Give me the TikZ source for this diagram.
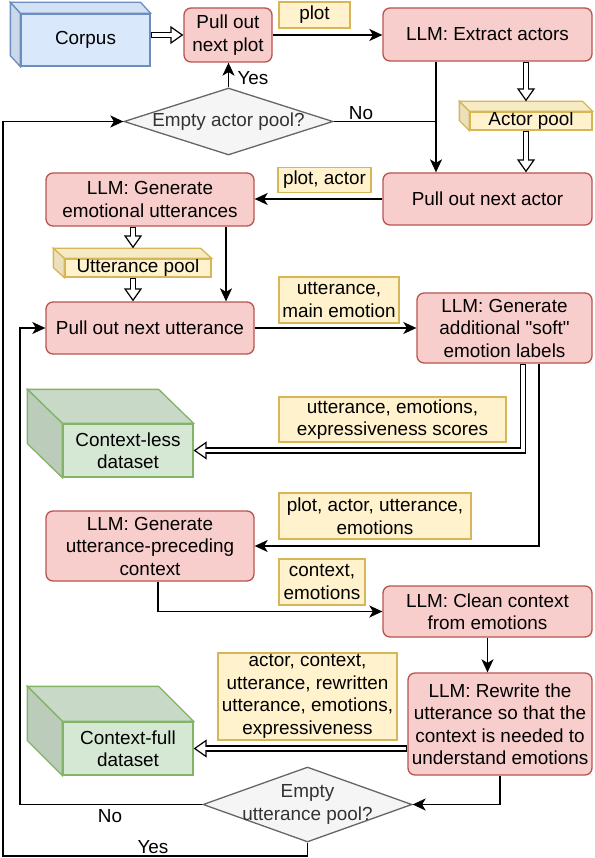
\documentclass[tikz,border=0pt]{standalone}
\usepackage{fontspec}
\setmainfont{Liberation Sans}[Ligatures=TeXOff]
\usetikzlibrary{arrows.meta,shapes.geometric,calc}
\definecolor{redF}{HTML}{F8CECC}
\definecolor{redS}{HTML}{B85450}
\definecolor{yelF}{HTML}{FFF2CC}
\definecolor{yelS}{HTML}{D6B656}
\definecolor{grnF}{HTML}{D5E8D4}
\definecolor{grnS}{HTML}{82B366}
\definecolor{bluF}{HTML}{DAE8FC}
\definecolor{bluS}{HTML}{6C8EBF}
\definecolor{grayF}{HTML}{F5F5F5}
\definecolor{grayS}{HTML}{666666}
\definecolor{grayT}{HTML}{333333}
\newcommand{\cubefaces}[7]{%
  \filldraw[draw=#5, fill=#4!#6!black, line width=1.3pt] (#1.north west) -- ([shift={(-#2,-#3)}]#1.north west) -- ([shift={(-#2,-#3)}]#1.north east) -- (#1.north east) -- cycle;
  \filldraw[draw=#5, fill=#4!#7!black, line width=1.3pt] (#1.north west) -- ([shift={(-#2,-#3)}]#1.north west) -- ([shift={(-#2,-#3)}]#1.south west) -- (#1.south west) -- cycle;
}
\begin{document}
\begin{tikzpicture}[x=1pt,y=-1pt,font=\fontsize{18.9pt}{22.5pt}\selectfont,
  proc/.style={draw=redS, fill=redF, rounded corners=7pt, line width=1.3pt, align=center, inner sep=0pt},
  lbl/.style={draw=yelS, fill=yelF, line width=1.3pt, align=center, inner sep=0pt},
  dec/.style={diamond, shape aspect=3.1, draw=grayS, fill=grayF, text=grayT, line width=1.3pt, align=center, inner xsep=-30pt, inner ysep=0pt},
  cubeB/.style={draw=bluS, fill=bluF, line width=1.3pt, inner sep=0pt, align=center},
  cubeG/.style={draw=grnS, fill=grnF, line width=1.3pt, inner sep=0pt, align=center},
  cubeY/.style={draw=yelS, fill=yelF, line width=1.3pt, inner sep=0pt, align=center},
  conn/.style={line width=1.5pt, -{Stealth[length=13pt,width=12pt,inset=3.5pt]}},
  plain/.style={line width=1.5pt},
  flex/.style={line width=6.4pt, -{Triangle[length=13pt,width=18pt,line width=1.2pt,fill=white]},
    postaction={draw=white, line width=3.8pt, -, shorten >=11.5pt, shorten <=1.2pt}},
  txt/.style={inner sep=0pt}]
\useasboundingbox (0,0) rectangle (594,858);

% nodes
\node[cubeB, minimum width=129pt, minimum height=52pt] (corpus) at (85.5,40) {Corpus};
\node[proc, minimum width=88pt, minimum height=54pt] (ppl) at (228,35) {Pull out\\next plot};
\node[lbl, minimum width=71pt, minimum height=26pt] (lplot) at (314.5,15) {plot};
\node[proc, minimum width=209pt, minimum height=53pt] (ext) at (487.5,34.5) {LLM: Extract actors};
\node[cubeY, minimum width=122pt, minimum height=18pt] (apool) at (531,121) {Actor pool};
\node[dec, minimum width=209pt, minimum height=67pt] (dap) at (228.5,121.5) {Empty actor pool?};
\node[proc, minimum width=209pt, minimum height=52pt] (pna) at (487.5,199) {Pull out next actor};
\node[lbl, minimum width=93pt, minimum height=25pt] (lpa) at (324.5,180) {plot, actor};
\node[proc, minimum width=208pt, minimum height=53pt] (geu) at (150,199.5) {LLM: Generate\\emotional utterances};
\node[cubeY, minimum width=146pt, minimum height=18pt] (upool) at (138,268) {Utterance pool};
\node[proc, minimum width=208pt, minimum height=52pt] (pnu) at (150,328) {Pull out next utterance};
\node[lbl, minimum width=120pt, minimum height=46pt] (lume) at (339,300) {utterance,\\main emotion};
\node[proc, minimum width=175pt, minimum height=70pt] (gas) at (504.5,328) {LLM: Generate\\additional "soft"\\emotion labels};
\node[cubeG, minimum width=130pt, minimum height=53pt] (cless) at (128,450.5) {Context-less\\dataset};
\node[lbl, minimum width=227pt, minimum height=45pt] (lues) at (392.5,419.5) {utterance, emotions,\\expressiveness scores};
\node[lbl, minimum width=192pt, minimum height=46pt] (lpaue) at (375,516) {plot, actor, utterance,\\emotions};
\node[proc, minimum width=208pt, minimum height=70pt] (guc) at (150,546) {LLM: Generate\\utterance-preceding\\context};
\node[lbl, minimum width=86pt, minimum height=46pt] (lce) at (322,582) {context,\\emotions};
\node[proc, minimum width=209pt, minimum height=51pt] (clean) at (487.5,611.5) {LLM: Clean context\\from emotions};
\node[lbl, minimum width=179pt, minimum height=87pt] (lacu) at (307.5,696.5) {actor, context,\\utterance, rewritten\\utterance, emotions,\\expressiveness};
\node[proc, minimum width=184pt, minimum height=102pt] (rew) at (500,724) {LLM: Rewrite the\\utterance so that the\\context is needed to\\understand emotions};
\node[cubeG, minimum width=130pt, minimum height=53pt] (cfull) at (128,748.5) {Context-full\\dataset};
\node[dec, minimum width=209pt, minimum height=75pt] (dup) at (307.5,804.5) {Empty\\utterance pool?};

% cube faces
\cubefaces{corpus}{10}{11}{bluF}{bluS}{97}{93}
\cubefaces{apool}{10}{10}{yelF}{yelS}{97}{92}
\cubefaces{upool}{11}{10}{yelF}{yelS}{97}{92}
\cubefaces{cless}{35}{34}{grnF}{grnS}{94}{88}
\cubefaces{cfull}{35}{35}{grnF}{grnS}{94}{88}

% plain labels
\node[txt] (tyes1) at (253,78) {Yes};
\node[txt] (tno1) at (361,113) {No};
\node[txt] (tno2) at (110,816) {No};
\node[txt] (tyes2) at (153,847) {Yes};

% coordinates
\coordinate (extL) at ([xshift=-51.5pt]ext.south);
\coordinate (extR) at ([xshift=38.5pt]ext.south);
\coordinate (apoolTop) at ([yshift=10pt]apool.north);
\coordinate (geuL) at ([xshift=-17pt]geu.south);
\coordinate (geuR) at ([xshift=76pt]geu.south);
\coordinate (upoolTop) at ([yshift=10pt]upool.north);
\coordinate (noL) at (20,804);
\coordinate (yesB) at (3,856);

% connectors
\draw[flex] (ppl.west -| corpus.east) -- (ppl.west);
\draw[conn] (ppl.east) -- (ppl.east -| ext.west);
\draw[conn] (extL) -- (extL |- pna.north);
\draw[plain] (dap.east) -- (dap.east -| extL);
\draw[flex] (extR) -- (extR |- apoolTop);
\draw[flex] (extR |- apool.south) -- (extR |- pna.north);
\draw[conn] (dap.north) -- (dap.north |- ppl.south);
\draw[conn] (pna.west) -- (pna.west -| geu.east);
\draw[flex] (geuL) -- (geuL |- upoolTop);
\draw[flex] (geuL |- upool.south) -- (geuL |- pnu.north);
\draw[conn] (geuR) -- (geuR |- pnu.north);
\draw[conn] (pnu.east) -- (pnu.east -| gas.west);
\draw[flex] ([xshift=18.5pt]gas.south) |- (cless.east);
\draw[conn] ([xshift=34.5pt]gas.south) |- (guc.east);
\draw[conn] ([xshift=8pt]guc.south) |- (clean.west);
\draw[conn] (clean.south) -- (clean.south |- rew.north);
\draw[flex] (cfull.east -| rew.west) -- (cfull.east);
\draw[conn] (rew.south) |- (dup.east);
\draw[conn] (dup.west) -- (dup.west -| noL) |- (pnu.west);
\draw[conn] (dup.south) |- (yesB) |- (dap.west);
\end{tikzpicture}
\end{document}
